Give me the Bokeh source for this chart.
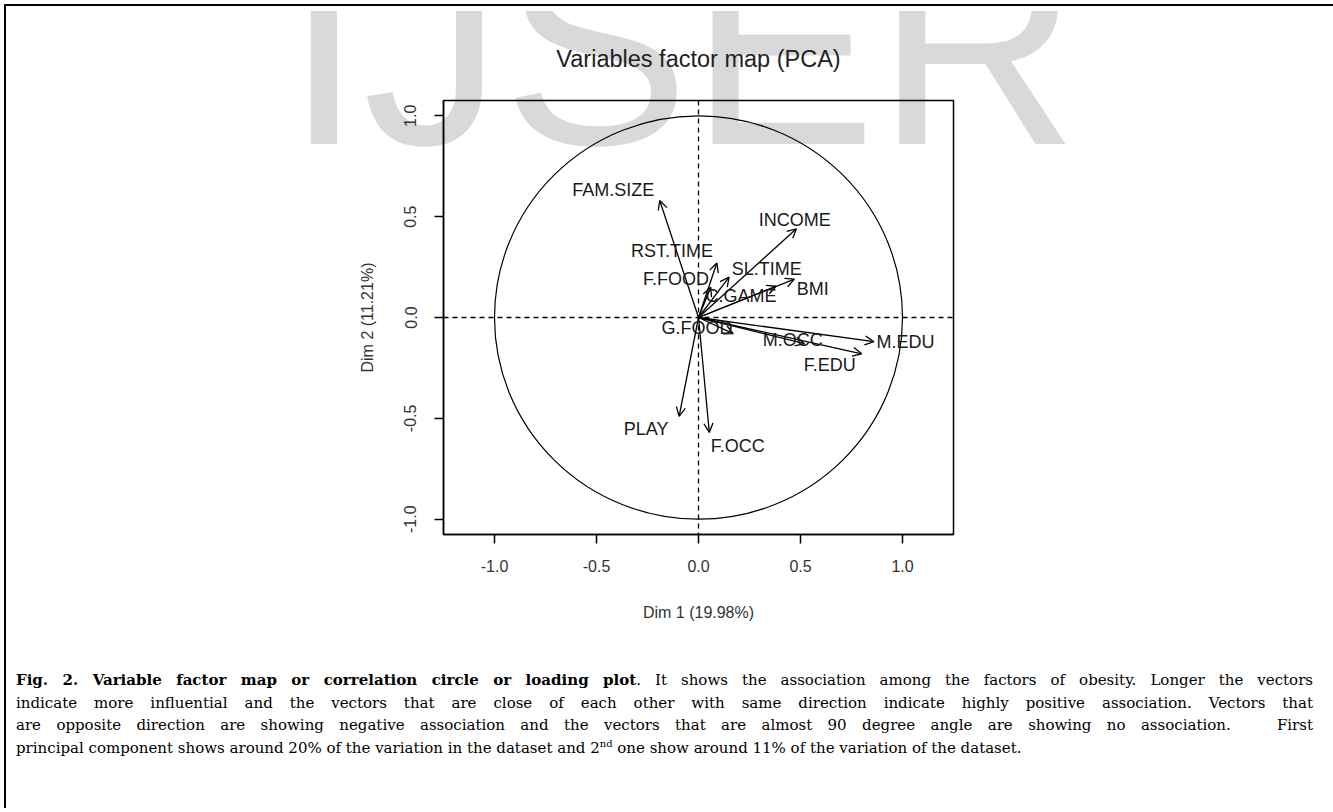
import math
from bokeh.plotting import figure
from bokeh.models import (ColumnDataSource, Arrow, OpenHead, LabelSet, Span,
                          FixedTicker, Range1d, Div, CustomJSTickFormatter)
from bokeh.layouts import column
from bokeh.embed import file_html
from bokeh.resources import INLINE
from bokeh.core.properties import value

# ---------------- data ----------------
variables = ["FAM.SIZE", "RST.TIME", "F.FOOD", "SL.TIME", "INCOME", "BMI", "C.GAME",
             "G.FOOD", "M.OCC", "M.EDU", "F.EDU", "PLAY", "F.OCC"]
dim1 = [-0.19, 0.09, 0.06, 0.15, 0.48, 0.47, 0.38, 0.17, 0.52, 0.86, 0.80, -0.095, 0.053]
dim2 = [0.58, 0.27, 0.15, 0.20, 0.44, 0.19, 0.155, -0.08, -0.13, -0.12, -0.18, -0.49, -0.57]
# label anchor points (data units, as placed by the label-repel routine)
label_x = [-0.418, -0.13, -0.11, 0.335, 0.472, 0.56, 0.208, -0.007, 0.462, 1.015, 0.643, -0.257, 0.193]
label_y = [0.632, 0.331, 0.192, 0.241, 0.485, 0.142, 0.108, -0.051, -0.111, -0.12, -0.234, -0.552, -0.636]

x_ticks = [-1.0, -0.5, 0.0, 0.5, 1.0]
x_tick_labels = ["-1.0", "-0.5", "0.0", "0.5", "1.0"]
y_ticks = [-1.0, -0.5, 0.0, 0.5, 1.0]
y_tick_labels = ["-1.0", "-0.5", "0.0", "0.5", "1.0"]

title_text = "Variables factor map (PCA)"
x_label = "Dim 1 (19.98%)"
y_label = "Dim 2 (11.21%)"
watermark_text = "IJSER"
circle_radius = 1.0

caption_lines = [
    "<b>Fig. 2. Variable factor map or correlation circle or loading plot</b>. It shows the association among the factors of obesity. Longer the vectors",
    "indicate more influential and the vectors that are close of each other with same direction indicate highly positive association. Vectors that",
    "are opposite direction are showing negative association and the vectors that are almost 90 degree angle are showing no association. &nbsp; First",
    "principal component shows around 20% of the variation in the dataset and 2<sup style='font-size:10px;line-height:0;vertical-align:6px'>nd</sup> one show around 11% of the variation of the dataset.",
]

# ---------------- watermark (behind the chart) ----------------
FIG_W, FIG_H = 1318, 650
WM_H = 160
wm = Div(text=("<div style=\"position:relative;top:-104px;padding-left:274px;white-space:nowrap;"
               "font-family:'Liberation Sans',sans-serif;font-size:280px;line-height:280px;"
               "color:#d9d9d9;\">" + watermark_text + "</div>"),
         width=FIG_W, height=WM_H, styles={"overflow": "hidden"})

# ---------------- figure ----------------
p = figure(width=FIG_W, height=FIG_H,
           x_range=Range1d(-1.25, 1.25), y_range=Range1d(-1.076, 1.076),
           output_backend="svg", toolbar_location=None,
           min_border_left=437, min_border_right=371,
           min_border_top=94, min_border_bottom=122,
           margin=(-(WM_H + 10), 0, 0, 0))
p.xgrid.visible = False
p.ygrid.visible = False
p.outline_line_color = "black"
p.outline_line_width = 1.5
p.outline_line_alpha = 1.0
p.background_fill_alpha = 0
p.border_fill_alpha = 0

p.title.text = title_text
p.title.align = "center"
p.title.text_font = "Liberation Sans"
p.title.text_font_size = "23.5px"
p.title.text_font_style = "normal"
p.title.text_color = "#222222"
p.title.standoff = 57

def fmt(tvals, tlabels):
    return CustomJSTickFormatter(args=dict(tvals=tvals, tlabels=tlabels), code="""
        for (let i = 0; i < tvals.length; i++) {
            if (Math.abs(tvals[i] - tick) < 1e-9) { return tlabels[i]; }
        }
        return '';
    """)

for ax, tv, tl in ((p.xaxis, x_ticks, x_tick_labels), (p.yaxis, y_ticks, y_tick_labels)):
    ax.ticker = FixedTicker(ticks=tv)
    ax.formatter = fmt(tv, tl)
    ax.axis_line_color = "black"
    ax.axis_line_width = 1.5
    ax.major_tick_line_width = 1.5
    ax.major_tick_out = 9
    ax.major_tick_in = 0
    ax.minor_tick_line_color = None
    ax.major_label_text_font = "Liberation Sans"
    ax.major_label_text_font_size = "16px"
    ax.major_label_text_color = "#333333"
    ax.axis_label_text_font = "Liberation Sans"
    ax.axis_label_text_font_size = "16px"
    ax.axis_label_text_font_style = "normal"
    ax.axis_label_text_color = "#333333"

p.xaxis.axis_label = x_label
p.yaxis.axis_label = y_label
p.xaxis.major_label_standoff = 16
p.xaxis.axis_label_standoff = 29
p.yaxis.major_label_orientation = "vertical"
p.yaxis.major_label_standoff = 18
p.yaxis.axis_label_standoff = 26

# correlation circle
circ = p.ellipse(x=[0], y=[0], width=[2 * circle_radius], height=[2 * circle_radius],
                 fill_color=None, line_color="black", line_width=1.2)

# dashed axes through origin
p.add_layout(Span(location=0, dimension="width", line_color="black",
                  line_dash="5 4", line_width=1.3))
p.add_layout(Span(location=0, dimension="height", line_color="black",
                  line_dash="5 4", line_width=1.3))

src = ColumnDataSource(dict(name=variables, x=dim1, y=dim2, lx=label_x, ly=label_y))

p.add_layout(Arrow(end=OpenHead(size=9, line_width=1.3, line_color="black"),
                   x_start=0, y_start=0, x_end="x", y_end="y", source=src,
                   line_color="black", line_width=1.3))

p.add_layout(LabelSet(x="lx", y="ly", text="name", source=src,
                      text_align="center", text_baseline="middle",
                      text_font=value("Liberation Sans"), text_font_size="18px",
                      text_color="#1a1a1a"))

# ---------------- caption ----------------
rows = []
for i, line in enumerate(caption_lines):
    if i < len(caption_lines) - 1:
        style = "text-align:justify;text-align-last:justify;"
    else:
        style = "text-align:left;"
    rows.append(f"<div style=\"{style}\">{line}</div>")
html = ("<div style=\"width:1302px;padding:8px 0 0 5px;font-family:'DejaVu Serif',serif;"
        "font-size:15px;line-height:22.5px;color:#000;\">" + "".join(rows) + "</div>")
caption = Div(text=html, width=FIG_W, height=142)

layout = column(wm, p, caption, margin=(4, 0, 0, 4),
                styles={"border-top": "2px solid black",
                        "border-left": "2px solid black",
                        "border-right": "2px solid black"})

open("out.html", "w").write(file_html(layout, INLINE))
